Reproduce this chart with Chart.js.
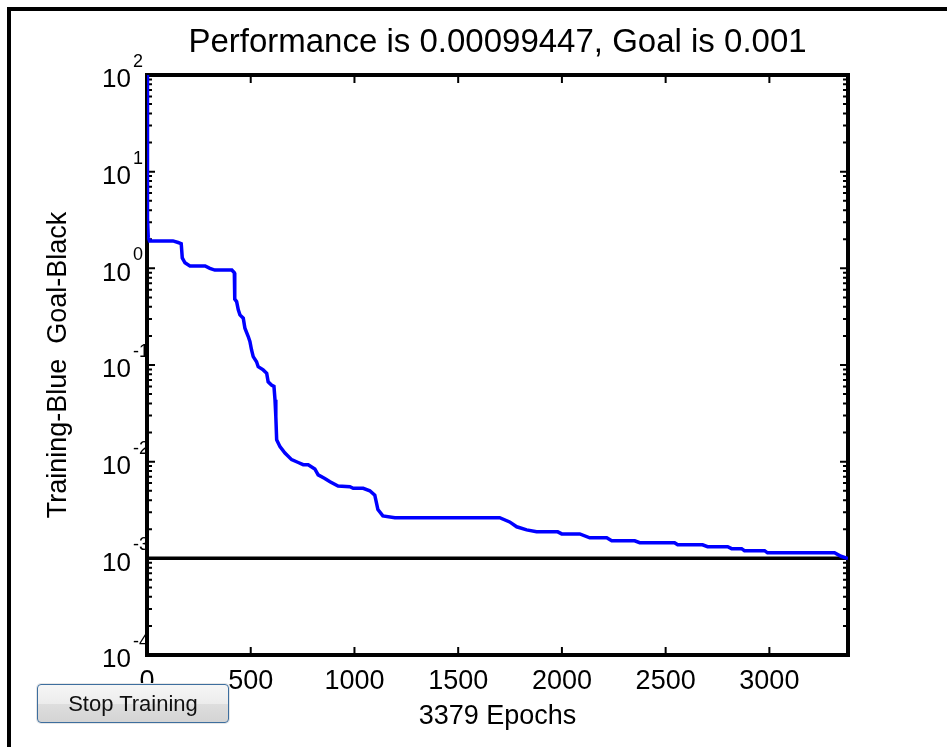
<!DOCTYPE html>
<html><head><meta charset="utf-8">
<script src="https://cdn.jsdelivr.net/npm/chart.js@4.4.0/dist/chart.umd.min.js"></script>
<style>
html,body{margin:0;padding:0;background:#fff;overflow:hidden}
#wrap{position:relative;width:947px;height:747px;background:#fff}
#frame{position:absolute;left:7px;top:7px;right:-10px;bottom:-10px;border-left:4px solid #000;border-top:4px solid #000;pointer-events:none}
canvas{position:absolute;left:0;top:0}
#btn{position:absolute;left:37px;top:684px;width:192px;height:39px;box-sizing:border-box;border:1px solid #3d6e9e;border-radius:4px;
background:linear-gradient(#f6f6f6,#ececec 50%,#dedede 51%,#d4d4d4);font-family:"Liberation Sans",Arial,sans-serif;font-size:22px;color:#111;
display:flex;align-items:center;justify-content:center;box-shadow:0 0 0 1px #e6e6e6}
</style></head>
<body><div id="wrap"><canvas id="c" width="947" height="747"></canvas><div id="frame"></div><div id="btn">Stop Training</div></div>
<script>
const titleText = 'Performance is 0.00099447, Goal is 0.001';
const xTitle = '3379 Epochs';
const yTitle = 'Training-Blue  Goal-Black';
const xTicks = [0, 500, 1000, 1500, 2000, 2500, 3000];
const yTickExponents = [-4, -3, -2, -1, 0, 1, 2];
const xMin = 0, xMax = 3379;
const goal = 0.001;
const epochs = [0,1,2,4,6,12,125,150,165,170,183,207,280,303,327,409,421,423,432,440,448,464,472,488,496,504,512,528,536,560,577,584,600,612,617,621,625,641,665,697,729,753,777,809,825,857,882,921,978,994,1042,1074,1098,1113,1137,1195,1700,1748,1782,1830,1878,1980,1999,2086,2134,2216,2240,2351,2375,2543,2558,2678,2702,2799,2818,2866,2880,2977,2991,3314,3345,3379];
const performance = [100,20,6,3.3,2.1,1.92,1.92,1.85,1.8,1.28,1.14,1.06,1.06,1.0,0.96,0.96,0.9,0.48,0.453,0.372,0.33,0.305,0.24,0.197,0.175,0.143,0.122,0.108,0.096,0.089,0.082,0.067,0.062,0.060,0.0436,0.0292,0.0168,0.0143,0.0123,0.0105,0.0098,0.0093,0.0093,0.0084,0.0073,0.0067,0.0062,0.0056,0.0055,0.0053,0.0053,0.0050,0.0045,0.0032,0.00275,0.00263,0.00263,0.00238,0.00212,0.00197,0.00188,0.00188,0.00179,0.00179,0.00163,0.00163,0.00152,0.00152,0.00145,0.00145,0.00138,0.00138,0.00132,0.00132,0.00126,0.00126,0.0012,0.0012,0.00114,0.00114,0.00105,0.00099447];

const FONT = '"Liberation Sans", Arial, sans-serif';

const decorPlugin = {
  id: 'decor',
  beforeDatasetsDraw(chart) {
    const {ctx, chartArea: a, scales: {x, y}} = chart;
    ctx.save();
    ctx.strokeStyle = '#000';
    ctx.lineWidth = 2;
    xTicks.forEach(v => {
      const px = x.getPixelForValue(v);
      ctx.beginPath();
      ctx.moveTo(px, a.bottom); ctx.lineTo(px, a.bottom - 8);
      ctx.moveTo(px, a.top); ctx.lineTo(px, a.top + 8);
      ctx.stroke();
    });
    yTickExponents.forEach(e => {
      for (let k = 1; k <= 9; k++) {
        const v = k * Math.pow(10, e);
        const py = y.getPixelForValue(v);
        const len = k === 1 ? 8 : 5;
        ctx.beginPath();
        ctx.moveTo(a.left, py); ctx.lineTo(a.left + len, py);
        ctx.moveTo(a.right, py); ctx.lineTo(a.right - len, py);
        ctx.stroke();
        if (e === yTickExponents[yTickExponents.length - 1]) break;
      }
    });
    ctx.lineWidth = 4;
    ctx.strokeRect(a.left, a.top, a.right - a.left, a.bottom - a.top);
    ctx.fillStyle = '#000';
    yTickExponents.forEach(e => {
      const py = y.getPixelForValue(Math.pow(10, e));
      ctx.font = '26px ' + FONT;
      ctx.textAlign = 'right';
      ctx.textBaseline = 'middle';
      ctx.fillText('10', 131, py + 5);
      ctx.font = '18px ' + FONT;
      ctx.textAlign = 'left';
      ctx.fillText(String(e), 133, py - 13);
    });
    ctx.restore();
  }
};

new Chart(document.getElementById('c'), {
  type: 'line',
  data: {
    datasets: [
      {
        label: 'Training',
        data: epochs.map((e, i) => ({x: e, y: performance[i]})),
        borderColor: '#0000ff',
        borderWidth: 3.5,
        pointRadius: 0,
        tension: 0,
        fill: false,
        order: 0
      },
      {
        label: 'Goal',
        data: [{x: xMin, y: goal}, {x: xMax, y: goal}],
        borderColor: '#000000',
        borderWidth: 3.5,
        pointRadius: 0,
        fill: false,
        order: 1
      }
    ]
  },
  options: {
    responsive: false,
    animation: false,
    devicePixelRatio: 1,
    layout: {padding: {left: 0, right: 99, top: 0, bottom: 0}},
    plugins: {
      legend: {display: false},
      tooltip: {enabled: false},
      title: {
        display: true,
        text: titleText,
        fullSize: false,
        color: '#000',
        font: {family: FONT, size: 33, weight: 'normal', lineHeight: 1.2},
        padding: {top: 23, bottom: 12.4}
      }
    },
    scales: {
      x: {
        type: 'linear', min: xMin, max: xMax,
        afterBuildTicks: s => { s.ticks = xTicks.map(v => ({value: v})); },
        afterFit: s => { s.height = 92; },
        grid: {display: false, drawTicks: false},
        border: {display: false},
        ticks: {color: '#000', font: {family: FONT, size: 27}, padding: 10, maxRotation: 0, autoSkip: false,
                callback: v => String(v)},
        title: {display: true, text: xTitle, color: '#000', font: {family: FONT, size: 27}, padding: {top: 0, bottom: 14}}
      },
      y: {
        type: 'logarithmic', min: 1e-4, max: 100,
        afterFit: s => { s.width = 147; },
        grid: {display: false, drawTicks: false},
        border: {display: false},
        ticks: {display: false},
        title: {display: true, text: yTitle, color: '#000', font: {family: FONT, size: 27}, padding: {top: 42, bottom: 0}}
      }
    }
  },
  plugins: [decorPlugin]
});
</script>
</body></html>
